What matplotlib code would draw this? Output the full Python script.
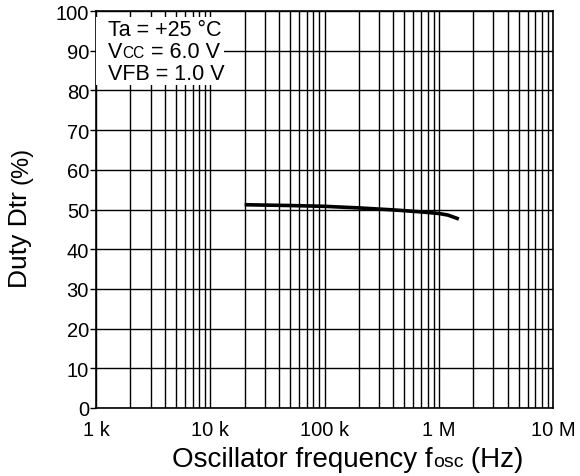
import matplotlib
matplotlib.use('Agg')
from matplotlib import pyplot as plt
from matplotlib.ticker import FixedLocator, NullFormatter

plt.rcParams['font.family'] = ['Liberation Sans', 'DejaVu Sans']

# curve
freq = [20e3, 50e3, 100e3, 200e3, 400e3, 700e3, 1e6, 1.2e6, 1.5e6]
duty = [51.2, 51.0, 50.8, 50.4, 49.9, 49.4, 49.0, 48.6, 47.6]

xticks = [1e3, 1e4, 1e5, 1e6, 1e7]
xlabels = ['1 k', '10 k', '100 k', '1 M', '10 M']
yticks = list(range(0, 101, 10))

W, H = 580, 477
L, R, T, B = 96, 553, 12, 409

fig = plt.figure(figsize=(W / 100, H / 100), dpi=100)
ax = fig.add_axes([L / W, 1 - B / H, (R - L) / W, (B - T) / H])

ax.plot(freq, duty, color='black', lw=2.6, solid_capstyle='butt', zorder=3)

ax.set_xscale('log')
ax.set_xlim(1e3, 1e7)
ax.set_ylim(0, 100)
ax.set_xticks(xticks)
ax.set_xticklabels(xlabels)
minors = [m * d for d in [1e3, 1e4, 1e5, 1e6] for m in range(2, 10)]
ax.xaxis.set_minor_locator(FixedLocator(minors))
ax.xaxis.set_minor_formatter(NullFormatter())
ax.set_yticks(yticks)

ax.grid(True, which='both', axis='x', color='black', lw=1.0)
ax.grid(True, which='major', axis='y', color='black', lw=1.0)
ax.tick_params(axis='x', which='both', length=0, labelsize=14.5, pad=9)
ax.tick_params(axis='y', length=4, width=1, direction='out', labelsize=14.5, pad=1)
for s in ax.spines.values():
    s.set_linewidth(1.2)

# white box behind the conditions
box_x1, box_y0, box_y1 = 224, 18, 86
ax.add_patch(plt.Rectangle(((0), 1 - (box_y1 - T) / (B - T)),
                           (box_x1 - L) / (R - L), (box_y1 - box_y0) / (B - T),
                           transform=ax.transAxes, facecolor='white',
                           edgecolor='none', zorder=4))

renderer = fig.canvas.get_renderer()


def put(px, py, s, size, rot=0):
    # text with its baseline at pixel (px, py) measured from top-left
    return fig.text(px / W, 1 - py / H, s, fontsize=size, ha='left',
                    va='baseline', rotation=rot, rotation_mode='anchor',
                    zorder=5)


def chain(prev, s, size):
    bb = prev.get_window_extent(renderer)
    x, y = prev.get_transform().transform(prev.get_position())
    rot = prev.get_rotation()
    if rot == 90:
        y = bb.y1
    else:
        x = bb.x1
    return fig.text(x / W, y / H, s, fontsize=size, ha='left', va='baseline',
                    rotation=rot, rotation_mode='anchor', zorder=5)


fs = 15.5
put(108, 36, 'Ta = +25 \u00b0C', fs)
v = put(108, 58, 'V', fs)
c = chain(v, 'CC', fs * 0.72)
chain(c, ' = 6.0 V', fs)
put(108, 80, 'VFB = 1.0 V', fs)

# axis labels
xl = put(172, 467, 'Oscillator frequency f', 20)
o = chain(xl, 'osc', 14)
chain(o, ' (Hz)', 20)

yl = put(27, 288, 'Duty Dtr ', 19, rot=90)
chain(yl, '(%)', 17)

fig.savefig('out.png', dpi=100)
